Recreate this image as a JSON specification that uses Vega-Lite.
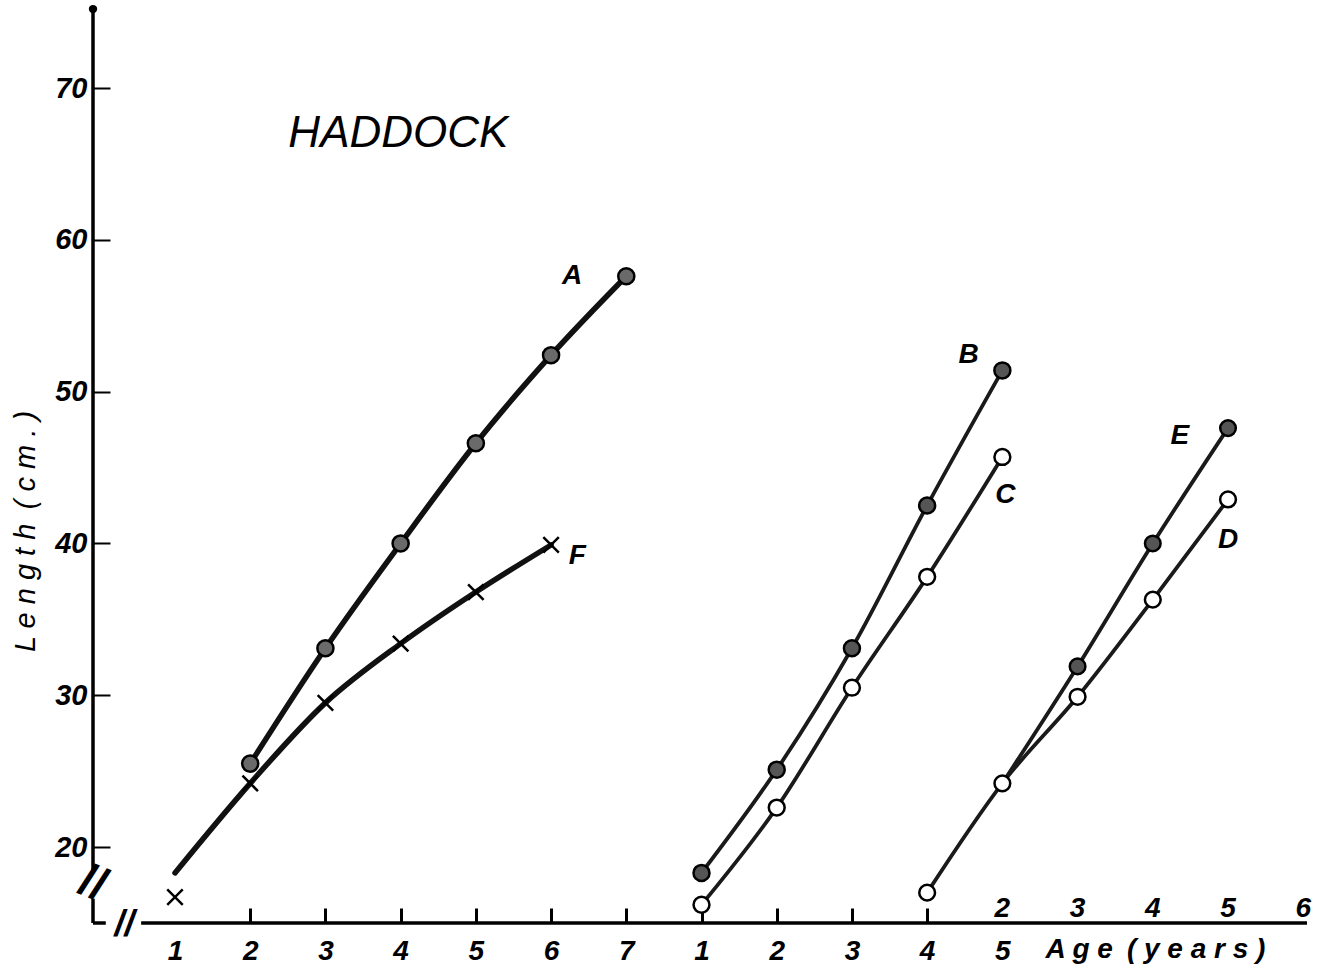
{
  "$schema": "https://vega.github.io/schema/vega-lite/v6.json",
  "width": 1217,
  "height": 915,
  "autosize": {"type": "none"},
  "padding": {"left": 93, "top": 8, "right": 15, "bottom": 56},
  "background": "white",
  "config": {"view": {"stroke": null}, "font": "Liberation Sans"},
  "datasets": {
    "lines": [
      {"series": "A", "pos": 2, "length": 25.5}, {"series": "A", "pos": 3, "length": 33.1}, {"series": "A", "pos": 4, "length": 40.0}, {"series": "A", "pos": 5, "length": 46.6}, {"series": "A", "pos": 6, "length": 52.4}, {"series": "A", "pos": 7, "length": 57.6},
      {"series": "F", "pos": 1, "length": 18.3}, {"series": "F", "pos": 2, "length": 24.2}, {"series": "F", "pos": 3, "length": 29.5}, {"series": "F", "pos": 4, "length": 33.4}, {"series": "F", "pos": 5, "length": 36.8}, {"series": "F", "pos": 6, "length": 39.9},
      {"series": "B", "pos": 8, "length": 18.3}, {"series": "B", "pos": 9, "length": 25.1}, {"series": "B", "pos": 10, "length": 33.1}, {"series": "B", "pos": 11, "length": 42.5}, {"series": "B", "pos": 12, "length": 51.4},
      {"series": "C", "pos": 8, "length": 16.2}, {"series": "C", "pos": 9, "length": 22.6}, {"series": "C", "pos": 10, "length": 30.5}, {"series": "C", "pos": 11, "length": 37.8}, {"series": "C", "pos": 12, "length": 45.7},
      {"series": "D", "pos": 11, "length": 17.0}, {"series": "D", "pos": 12, "length": 24.2}, {"series": "D", "pos": 13, "length": 29.9}, {"series": "D", "pos": 14, "length": 36.3}, {"series": "D", "pos": 15, "length": 42.9},
      {"series": "E", "pos": 12, "length": 24.2}, {"series": "E", "pos": 13, "length": 31.9}, {"series": "E", "pos": 14, "length": 40.0}, {"series": "E", "pos": 15, "length": 47.6}
    ],
    "points": [
      {"series": "A", "pos": 2, "length": 25.5}, {"series": "A", "pos": 3, "length": 33.1}, {"series": "A", "pos": 4, "length": 40.0}, {"series": "A", "pos": 5, "length": 46.6}, {"series": "A", "pos": 6, "length": 52.4}, {"series": "A", "pos": 7, "length": 57.6},
      {"series": "F", "pos": 1, "length": 16.7}, {"series": "F", "pos": 2, "length": 24.2}, {"series": "F", "pos": 3, "length": 29.5}, {"series": "F", "pos": 4, "length": 33.4}, {"series": "F", "pos": 5, "length": 36.8}, {"series": "F", "pos": 6, "length": 39.9},
      {"series": "B", "pos": 8, "length": 18.3}, {"series": "B", "pos": 9, "length": 25.1}, {"series": "B", "pos": 10, "length": 33.1}, {"series": "B", "pos": 11, "length": 42.5}, {"series": "B", "pos": 12, "length": 51.4},
      {"series": "C", "pos": 8, "length": 16.2}, {"series": "C", "pos": 9, "length": 22.6}, {"series": "C", "pos": 10, "length": 30.5}, {"series": "C", "pos": 11, "length": 37.8}, {"series": "C", "pos": 12, "length": 45.7},
      {"series": "D", "pos": 11, "length": 17.0}, {"series": "D", "pos": 12, "length": 24.2}, {"series": "D", "pos": 13, "length": 29.9}, {"series": "D", "pos": 14, "length": 36.3}, {"series": "D", "pos": 15, "length": 42.9},
      {"series": "E", "pos": 13, "length": 31.9}, {"series": "E", "pos": 14, "length": 40.0}, {"series": "E", "pos": 15, "length": 47.6}
    ],
    "labels": [
      {"series": "A", "pos": 6.28, "length": 57.6},
      {"series": "B", "pos": 11.55, "length": 52.4},
      {"series": "C", "pos": 12.04, "length": 43.2},
      {"series": "D", "pos": 15.0, "length": 40.2},
      {"series": "E", "pos": 14.36, "length": 47.1},
      {"series": "F", "pos": 6.35, "length": 39.2}
    ],
    "upper": [
      {"pos": 12, "label": "2"}, {"pos": 13, "label": "3"}, {"pos": 14, "label": "4"}, {"pos": 15, "label": "5"}, {"pos": 16, "label": "6"}
    ]
  },
  "layer": [
    {
      "data": {"values": [{}]},
      "mark": {"type": "rule", "color": "black", "strokeWidth": 3.5},
      "encoding": {
        "x": {"datum": 0.55, "type": "quantitative", "scale": {"domain": [-0.09, 16.09], "nice": false, "zero": false},
          "axis": {
            "values": [1, 2, 3, 4, 5, 6, 7, 8, 9, 10, 11, 12],
            "labelExpr": "datum.value <= 7 ? datum.value : datum.value - 7",
            "domain": false, "grid": false,
            "tickSize": -15, "tickWidth": 3, "tickColor": "black",
            "tickOpacity": {"condition": {"test": "datum.value == 1 || datum.value == 12", "value": 0}, "value": 1},
            "labelPadding": 29, "labelFontSize": 28, "labelFontStyle": "italic", "labelFontWeight": "bold", "labelColor": "black",
            "labelBaseline": "top", "labelFlush": false,
            "title": "A g e\u2002( y e a r s )",
            "titleFontSize": 28, "titleFontStyle": "italic", "titleFontWeight": "bold", "titleColor": "black",
            "titleX": 952, "titleY": 26, "titleAlign": "left", "titleBaseline": "middle", "titleAnchor": "start"
          }},
        "x2": {"datum": 16.05},
        "y": {"datum": 15, "type": "quantitative", "scale": {"domain": [15, 75.27], "nice": false, "zero": false},
          "axis": {
            "values": [20, 30, 40, 50, 60, 70],
            "domain": false, "grid": false,
            "tickSize": -17, "tickWidth": 2, "tickColor": "black",
            "labelPadding": 23, "labelFontSize": 29, "labelFontStyle": "italic", "labelFontWeight": "bold", "labelColor": "black",
            "title": "L e n g t h\u2002( c m . )",
            "titleFontSize": 29, "titleFontStyle": "italic", "titleFontWeight": "normal", "titleColor": "black",
            "titleAngle": 270, "titleX": -68, "titleY": 523, "titleAlign": "center", "titleBaseline": "middle"
          }}
      }
    },
    {
      "data": {"values": [{}]},
      "mark": {"type": "rule", "color": "black", "strokeWidth": 3.5},
      "encoding": {"x": {"datum": -0.09, "type": "quantitative"}, "y": {"datum": 75.2, "type": "quantitative"}, "y2": {"datum": 18.4}}
    },
    {
      "data": {"values": [{}]},
      "mark": {"type": "rule", "color": "black", "strokeWidth": 3.5},
      "encoding": {"x": {"datum": -0.09, "type": "quantitative"}, "y": {"datum": 16.6, "type": "quantitative"}, "y2": {"datum": 15}}
    },
    {
      "data": {"values": [{}]},
      "mark": {"type": "rule", "color": "black", "strokeWidth": 3.5},
      "encoding": {"x": {"datum": -0.09, "type": "quantitative"}, "x2": {"datum": 0.08}, "y": {"datum": 15, "type": "quantitative"}}
    },
    {
      "data": {"values": [{}]},
      "mark": {"type": "point", "filled": true, "color": "black", "size": 70, "opacity": 1},
      "encoding": {"x": {"datum": -0.09, "type": "quantitative"}, "y": {"datum": 75.2, "type": "quantitative"}}
    },
    {
      "data": {"values": [{}]},
      "mark": {"type": "text", "text": "//", "fontSize": 46, "fontWeight": "bold", "angle": 22, "color": "black", "baseline": "middle", "align": "center"},
      "encoding": {"x": {"datum": -0.09, "type": "quantitative"}, "y": {"datum": 17.6, "type": "quantitative"}}
    },
    {
      "data": {"values": [{}]},
      "mark": {"type": "text", "text": "//", "fontSize": 36, "fontWeight": "bold", "fontStyle": "italic", "color": "black", "baseline": "middle", "align": "center"},
      "encoding": {"x": {"datum": 0.33, "type": "quantitative"}, "y": {"datum": 14.9, "type": "quantitative"}}
    },
    {
      "data": {"name": "lines"},
      "transform": [{"filter": "datum.series == 'A' || datum.series == 'F'"}],
      "mark": {"type": "line", "color": "#111", "interpolate": "monotone", "strokeCap": "round", "strokeWidth": 5.5},
      "encoding": {
        "x": {"field": "pos", "type": "quantitative"},
        "y": {"field": "length", "type": "quantitative"},
        "detail": {"field": "series"}
      }
    },
    {
      "data": {"name": "lines"},
      "transform": [{"filter": "datum.series != 'A' && datum.series != 'F'"}],
      "mark": {"type": "line", "color": "#1a1a1a", "interpolate": "monotone", "strokeCap": "round", "strokeWidth": 3.8},
      "encoding": {
        "x": {"field": "pos", "type": "quantitative"},
        "y": {"field": "length", "type": "quantitative"},
        "detail": {"field": "series"}
      }
    },
    {
      "data": {"name": "points"},
      "mark": {"type": "point", "stroke": "black", "strokeWidth": 2.5, "opacity": 1},
      "encoding": {
        "x": {"field": "pos", "type": "quantitative"},
        "y": {"field": "length", "type": "quantitative"},
        "shape": {"field": "series", "type": "nominal", "scale": {"domain": ["A", "B", "C", "D", "E", "F"], "range": ["circle", "circle", "circle", "circle", "circle", "M-1,-1L1,1M-1,1L1,-1"]}, "legend": null},
        "fill": {"field": "series", "type": "nominal", "scale": {"domain": ["A", "B", "C", "D", "E", "F"], "range": ["#6a6a6a", "#555555", "white", "white", "#555555", "transparent"]}, "legend": null},
        "size": {"field": "series", "type": "nominal", "scale": {"domain": ["A", "B", "C", "D", "E", "F"], "range": [260, 240, 200, 200, 240, 140]}, "legend": null}
      }
    },
    {
      "data": {"name": "labels"},
      "mark": {"type": "text", "fontSize": 28, "fontStyle": "italic", "fontWeight": "bold", "color": "black", "baseline": "middle", "align": "center"},
      "encoding": {
        "x": {"field": "pos", "type": "quantitative"},
        "y": {"field": "length", "type": "quantitative"},
        "text": {"field": "series"}
      }
    },
    {
      "data": {"name": "upper"},
      "mark": {"type": "text", "fontSize": 28, "fontStyle": "italic", "fontWeight": "bold", "color": "black", "baseline": "bottom", "align": "center", "dy": 0},
      "encoding": {
        "x": {"field": "pos", "type": "quantitative"},
        "y": {"datum": 15, "type": "quantitative"},
        "text": {"field": "label"}
      }
    },
    {
      "data": {"values": [{"title": "HADDOCK", "pos": 3.97, "length": 66.97}]},
      "mark": {"type": "text", "fontSize": 44, "fontStyle": "italic", "fontWeight": "normal", "color": "black", "baseline": "middle", "align": "center"},
      "encoding": {
        "x": {"field": "pos", "type": "quantitative"},
        "y": {"field": "length", "type": "quantitative"},
        "text": {"field": "title"}
      }
    }
  ]
}
